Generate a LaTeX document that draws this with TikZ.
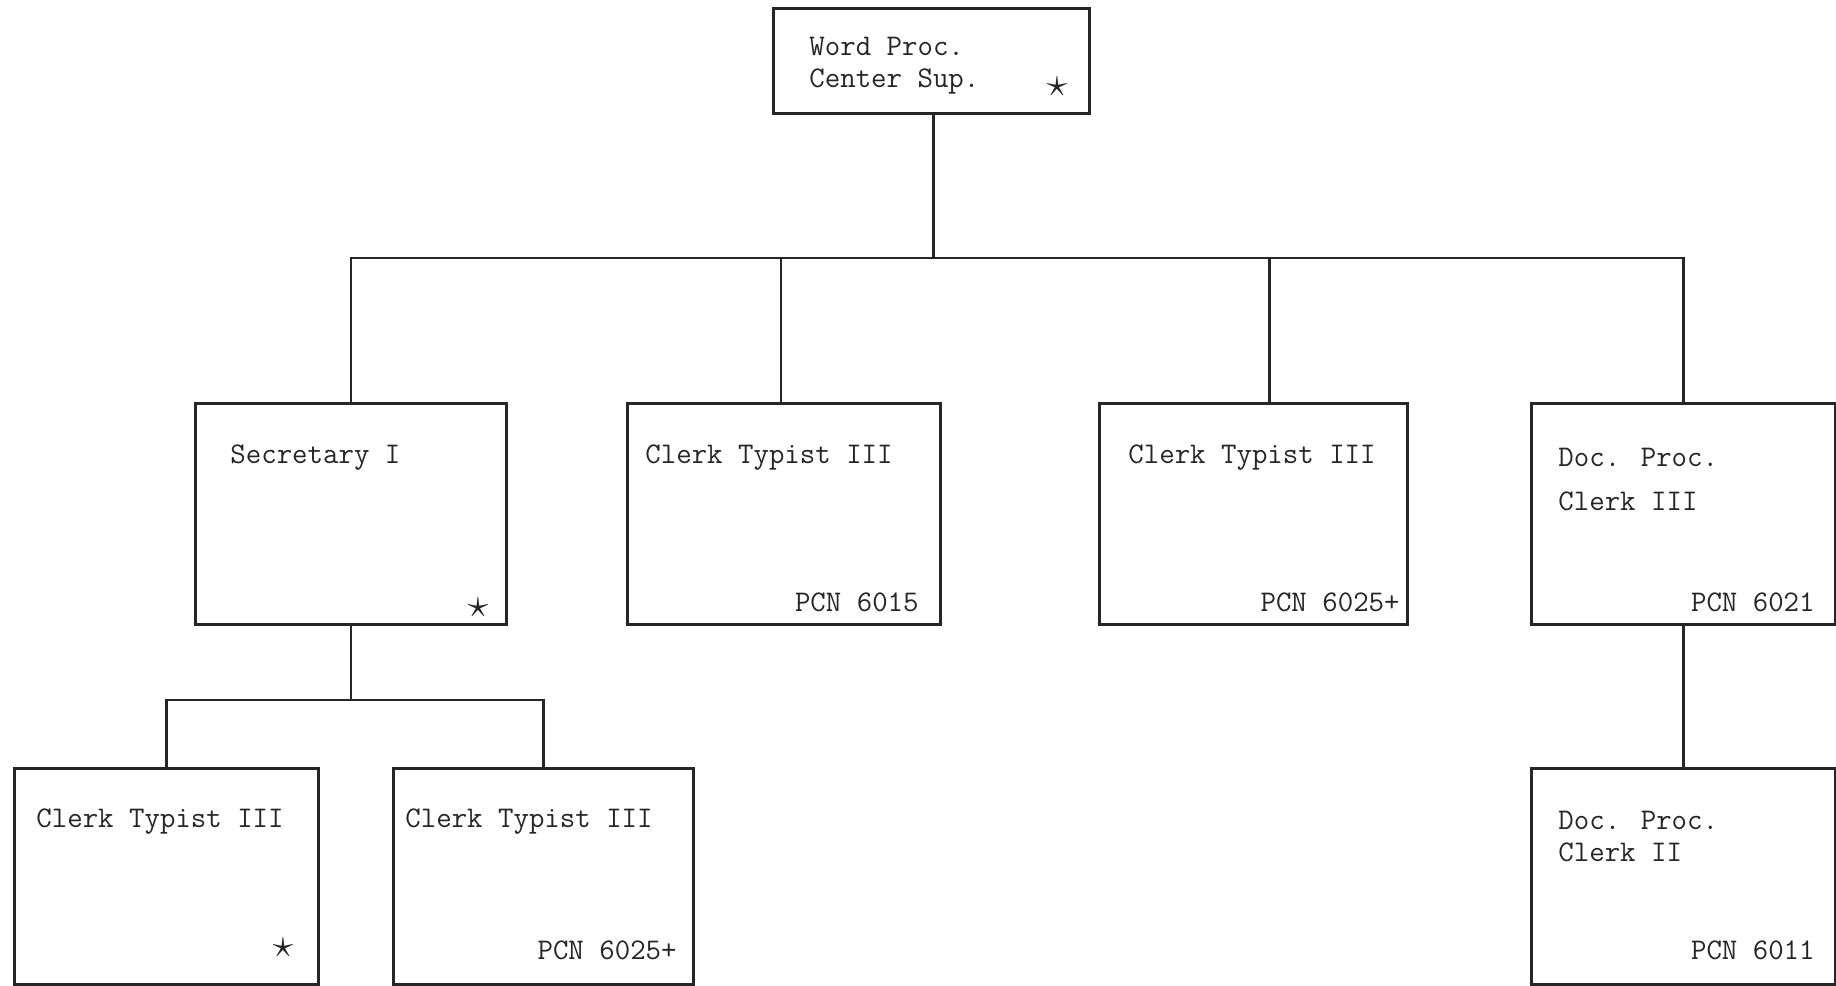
\documentclass[tikz,border=0pt]{standalone}
\begin{document}
\begin{tikzpicture}[x=0.5pt,y=-0.5pt,
  box/.style={draw=black!85, line width=1.4pt, rectangle, inner sep=0pt, anchor=north west},
  lbl/.style={font=\ttfamily\fontsize{15}{17}\selectfont, inner sep=0pt, text=black!85},
  lblL/.style={lbl, anchor=base west},
  lblR/.style={lbl, anchor=base east},
  starmark/.style={inner sep=0pt, anchor=center, font=\fontsize{20}{22}\selectfont, text=black!85},
  conn/.style={draw=black!85, line width=1.4pt}]
\useasboundingbox[fill=white] (0,0) rectangle (1836,985);

% boxes (x,y of top-left corner; size in px -> pt = px/2)
\node[box, minimum width=158pt, minimum height=52.5pt] (wp) at (772,7) {};
\node[box, minimum width=155.5pt, minimum height=110.5pt] (sec) at (194,402) {};
\node[box, minimum width=156.5pt, minimum height=110.5pt] (ct1) at (626,402) {};
\node[box, minimum width=154pt, minimum height=110.5pt] (ct2) at (1098,402) {};
\node[box, minimum width=152pt, minimum height=110.5pt] (dp3) at (1530,402) {};
\node[box, minimum width=152pt, minimum height=108pt] (ct3) at (13,767) {};
\node[box, minimum width=150pt, minimum height=108pt] (ct4) at (392,767) {};
\node[box, minimum width=152pt, minimum height=108pt] (dp2) at (1530,767) {};

% texts
\node[lblL] (wpa) at (809,55) {Word Proc.};
\node[lblL] (wpb) at (809,87) {Center Sup.};
\node[starmark] (wps) at (1057,87) {$\star$};

\node[lblL] (seca) at (230,463) {Secretary I};
\node[starmark] (secs) at (478,608) {$\star$};

\node[lblL] (ct1a) at (645,463) {Clerk Typist III};
\node[lblR] (ct1b) at (919,611) {PCN 6015};

\node[lblL] (ct2a) at (1128,463) {Clerk Typist III};
\node[lblR] (ct2b) at (1400,611) {PCN 6025+};

\node[lblL] (dp3a) at (1558,466) {Doc. Proc.};
\node[lblL] (dp3b) at (1558,510) {Clerk III};
\node[lblR] (dp3c) at (1815,611) {PCN 6021};

\node[lblL] (ct3a) at (36,827) {Clerk Typist III};
\node[starmark] (ct3s) at (283,948) {$\star$};

\node[lblL] (ct4a) at (405,827) {Clerk Typist III};
\node[lblR] (ct4b) at (677,959) {PCN 6025+};

\node[lblL] (dp2a) at (1558,829) {Doc. Proc.};
\node[lblL] (dp2b) at (1558,861) {Clerk II};
\node[lblR] (dp2c) at (1815,959) {PCN 6011};

% junction coordinates
\coordinate (bus) at (932,258);
\coordinate (sbus) at (349,700);

% connectors
\draw[conn] ([xshift=1pt]wp.south) -- ([xshift=1pt]wp.south |- bus);
\draw[conn] (sec.north) |- (dp3.north |- bus) -- (dp3.north);
\draw[conn] ([xshift=-1.5pt]ct1.north) -- ([xshift=-1.5pt]ct1.north |- bus);
\draw[conn] ([xshift=8pt]ct2.north) -- ([xshift=8pt]ct2.north |- bus);
\draw[conn] (sec.south) -- (sec.south |- sbus);
\draw[conn] (ct3.north) |- (ct4.north |- sbus) -- (ct4.north);
\draw[conn] (dp3.south) -- (dp2.north);
\end{tikzpicture}
\end{document}
